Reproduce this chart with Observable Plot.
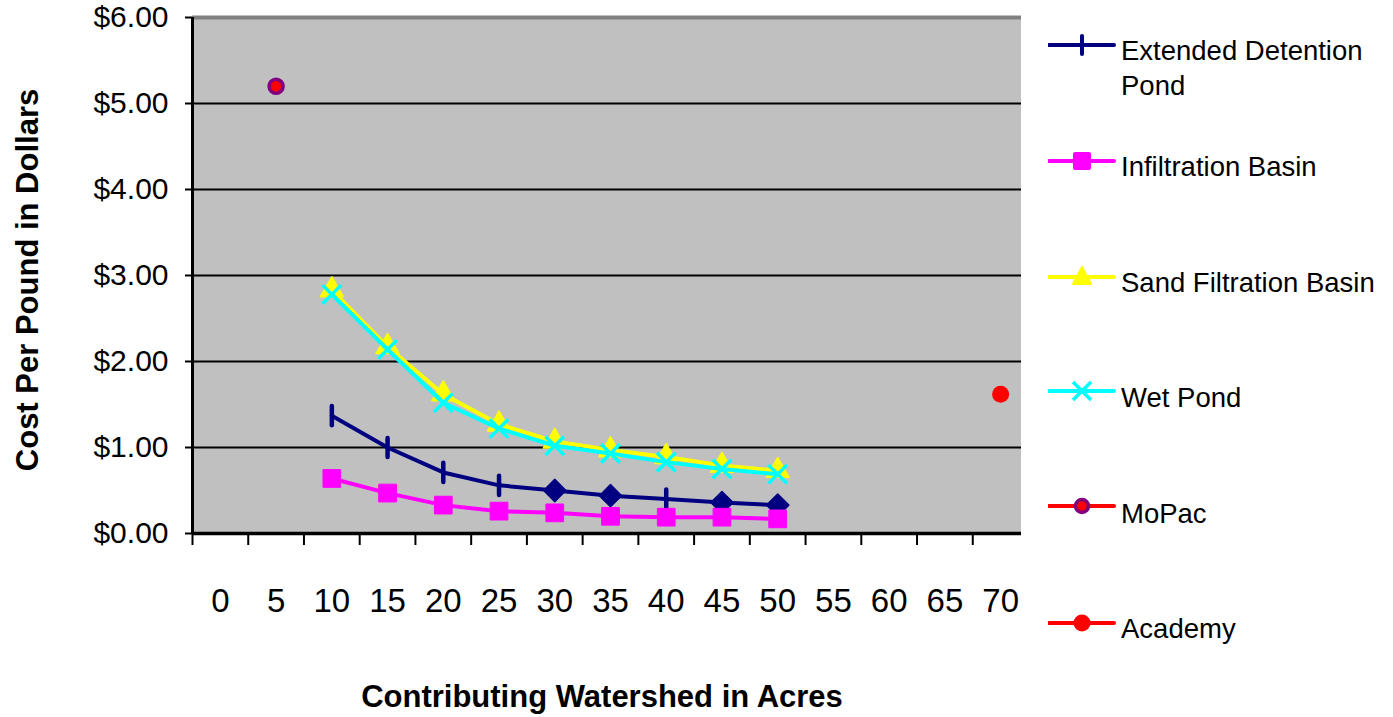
<!DOCTYPE html>
<html><head><meta charset="utf-8">
<script src="https://cdn.jsdelivr.net/npm/d3@7"></script>
<script src="https://cdn.jsdelivr.net/npm/@observablehq/plot@0.6"></script>
<style>
body{margin:0;background:#fff;}
#wrap{position:relative;width:1393px;height:717px;font-family:"Liberation Sans",Arial,sans-serif;color:#000;overflow:hidden;}
#legend{position:absolute;left:1021px;top:0;width:372px;height:717px;background:#fff;}
.sw{position:absolute;left:27px;}
.lt{position:absolute;left:100px;font-size:27.5px;line-height:35px;white-space:nowrap;}
#xt{position:absolute;left:0;width:1204px;top:679px;text-align:center;font-weight:bold;font-size:31px;}
#yt{position:absolute;left:28px;top:280px;transform:translate(-50%,-50%) rotate(-90deg);font-weight:bold;font-size:31px;white-space:nowrap;}
</style>
</head><body>
<div id="wrap"></div>
<script>
// ---- data ----
const categories = [0,5,10,15,20,25,30,35,40,45,50,55,60,65,70];
const acres = [10,15,20,25,30,35,40,45,50];
const extendedDetention = [1.37,1.00,0.71,0.56,0.50,0.44,0.40,0.36,0.33];
const infiltrationBasin = [0.64,0.47,0.33,0.26,0.24,0.20,0.19,0.19,0.17];
const sandFiltrationBasin = [2.83,2.17,1.62,1.27,1.07,0.97,0.89,0.79,0.73];
const wetPond = [2.78,2.14,1.52,1.22,1.02,0.93,0.83,0.75,0.69];
const mopacAcres = [5];
const mopacCost = [5.20];
const academyAcres = [70];
const academyCost = [1.62];
const yTicks = [0,1,2,3,4,5,6];
const seriesNames = ["Extended Detention Pond","Infiltration Basin","Sand Filtration Basin","Wet Pond","MoPac","Academy"];

const toRows = (xs, ys, name) => xs.map((x,i)=>({x, y: ys[i], name}));
const edp = toRows(acres, extendedDetention, seriesNames[0]);
const inf = toRows(acres, infiltrationBasin, seriesNames[1]);
const sand = toRows(acres, sandFiltrationBasin, seriesNames[2]);
const wet = toRows(acres, wetPond, seriesNames[3]);
const mopac = toRows(mopacAcres, mopacCost, seriesNames[4]);
const academy = toRows(academyAcres, academyCost, seriesNames[5]);

// band edges of the category axis
const bandEdges = categories.map(c => c - 2.5).concat([categories[categories.length-1] + 2.5]);

const vtick = {draw(ctx, size){ const h = Math.sqrt(size) * 0.6; ctx.moveTo(0,-h); ctx.lineTo(0,h); }};
const diamondAt = new Set([30,35,45,50]);

const NAVY="#000080", MAG="#ff00ff", YEL="#ffff00", CYAN="#00ffff", RED="#ff0000", PURP="#800080";

const chart = Plot.plot({
  width: 1393, height: 717,
  marginLeft: 192, marginRight: 365, marginTop: 17, marginBottom: 184,
  style: {fontFamily: '"Liberation Sans", Arial, sans-serif', color: "#000", background: "transparent", overflow: "visible"},
  x: {type: "linear", domain: [-2.5, 72.5]},
  y: {type: "linear", domain: [0, 6]},
  marks: [
    Plot.frame({fill: "#c0c0c0", stroke: null}),
    Plot.gridY({ticks: yTicks.filter(v => v > 0 && v < 6), stroke: "#000", strokeOpacity: 1, strokeWidth: 2}),
    Plot.ruleY([6], {stroke: "#808080", strokeWidth: 4}),
    Plot.axisY({ticks: yTicks, tickFormat: d => "$" + d.toFixed(2), tickSize: 7, tickPadding: 17, fontSize: 30, strokeWidth: 2, label: null}),
    Plot.axisX({ticks: bandEdges, tickFormat: () => "", tickSize: 12, strokeWidth: 2, label: null}),
    Plot.axisX({ticks: categories, tickFormat: d => String(d), tickSize: 0, tickPadding: 55, fontSize: 33, label: null}),
    Plot.ruleX([-2.5], {stroke: "#000", strokeWidth: 3}),
    Plot.ruleY([0], {stroke: "#000", strokeWidth: 3.5}),
    // Extended Detention Pond
    Plot.line(edp, {x: "x", y: "y", stroke: NAVY, strokeWidth: 4}),
    Plot.dot(edp.filter(d => !diamondAt.has(d.x)), {x: "x", y: "y", symbol: vtick, r: 9, fill: "none", stroke: NAVY, strokeWidth: 4.5, strokeLinecap: "round"}),
    Plot.dot(edp.filter(d => diamondAt.has(d.x)), {x: "x", y: "y", symbol: "diamond2", r: 10, fill: NAVY, stroke: NAVY, strokeWidth: 1.5, strokeLinejoin: "round"}),
    // Infiltration Basin
    Plot.line(inf, {x: "x", y: "y", stroke: MAG, strokeWidth: 4}),
    Plot.dot(inf, {x: "x", y: "y", symbol: "square", r: 10, fill: MAG, stroke: MAG, strokeWidth: 1, strokeLinejoin: "round"}),
    // Sand Filtration Basin
    Plot.line(sand, {x: "x", y: "y", stroke: YEL, strokeWidth: 4}),
    Plot.dot(sand, {x: "x", y: "y", symbol: "triangle", r: 8.5, fill: YEL, stroke: YEL, strokeWidth: 1.5, strokeLinejoin: "round"}),
    // Wet Pond
    Plot.line(wet, {x: "x", y: "y", stroke: CYAN, strokeWidth: 4}),
    Plot.dot(wet, {x: "x", y: "y", symbol: "times", r: 8.5, stroke: CYAN, strokeWidth: 3.5}),
    // MoPac
    Plot.dot(mopac, {x: "x", y: "y", r: 7, fill: RED, stroke: PURP, strokeWidth: 3.5}),
    // Academy
    Plot.dot(academy, {x: "x", y: "y", r: 8.5, fill: RED, stroke: "none"})
  ]
});

const wrap = document.getElementById("wrap");
wrap.appendChild(chart);

const xt = document.createElement("div"); xt.id = "xt"; xt.textContent = "Contributing Watershed in Acres"; wrap.appendChild(xt);
const yt = document.createElement("div"); yt.id = "yt"; yt.textContent = "Cost Per Pound in Dollars"; wrap.appendChild(yt);

// ---- legend ----
const legend = document.createElement("div"); legend.id = "legend"; wrap.appendChild(legend);
const legendRows = [
  {name: seriesNames[0], lineY: 45, textTop: 33, color: NAVY, marker: "tick"},
  {name: seriesNames[1], lineY: 161, textTop: 149, color: MAG, marker: "square"},
  {name: seriesNames[2], lineY: 277, textTop: 265, color: YEL, marker: "triangle"},
  {name: seriesNames[3], lineY: 391, textTop: 380, color: CYAN, marker: "times"},
  {name: seriesNames[4], lineY: 506, textTop: 496, color: RED, marker: "ring"},
  {name: seriesNames[5], lineY: 623, textTop: 611, color: RED, marker: "dot"}
];
const NS = "http://www.w3.org/2000/svg";
for (const r of legendRows) {
  const svg = document.createElementNS(NS, "svg");
  svg.setAttribute("class", "sw"); svg.setAttribute("width", 68); svg.setAttribute("height", 30);
  svg.style.top = (r.lineY - 15) + "px";
  const cx = 34, cy = 15;
  let html = `<line x1="1" x2="66" y1="${cy}" y2="${cy}" stroke="${r.color}" stroke-width="4" stroke-linecap="round"/>`;
  if (r.marker === "tick") html += `<line x1="${cx}" x2="${cx}" y1="${cy-9}" y2="${cy+9}" stroke="${r.color}" stroke-width="4" stroke-linecap="round"/>`;
  if (r.marker === "square") html += `<rect x="${cx-9}" y="${cy-9}" width="18" height="18" rx="2" fill="${r.color}"/>`;
  if (r.marker === "triangle") html += `<path d="M${cx},${cy-10}L${cx+9},${cy+7}L${cx-9},${cy+7}Z" fill="${r.color}" stroke="${r.color}" stroke-linejoin="round" stroke-width="2"/>`;
  if (r.marker === "times") html += `<path d="M${cx-9},${cy-9}L${cx+9},${cy+9}M${cx+9},${cy-9}L${cx-9},${cy+9}" stroke="${r.color}" stroke-width="3.5"/>`;
  if (r.marker === "ring") html += `<circle cx="${cx}" cy="${cy}" r="6.5" fill="${RED}" stroke="${PURP}" stroke-width="3.5"/>`;
  if (r.marker === "dot") html += `<circle cx="${cx}" cy="${cy}" r="8.5" fill="${RED}"/>`;
  svg.innerHTML = html;
  legend.appendChild(svg);
  const t = document.createElement("div"); t.className = "lt"; t.style.top = r.textTop + "px";
  t.innerHTML = r.name === seriesNames[0] ? "Extended Detention<br>Pond" : r.name;
  legend.appendChild(t);
}
</script>
</body></html>
